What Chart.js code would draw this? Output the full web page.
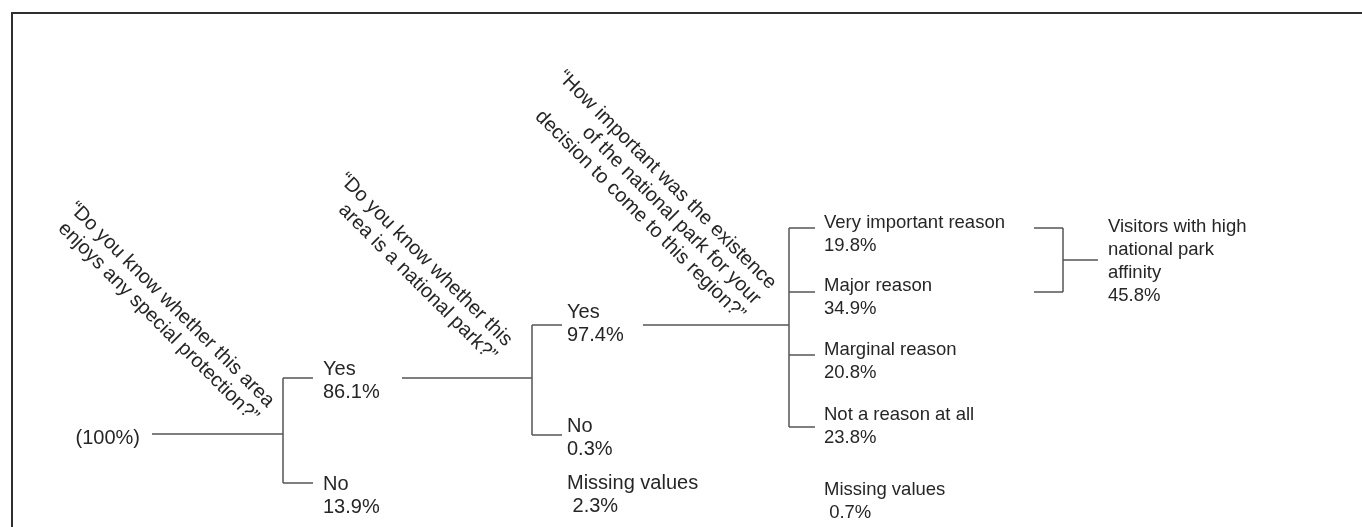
<!DOCTYPE html>
<html>
<head>
<meta charset="utf-8">
<title>National park affinity</title>
<script src="https://cdn.jsdelivr.net/npm/chart.js@4.4.1/dist/chart.umd.min.js"></script>
<style>
    html, body { margin: 0; padding: 0; background: #fff; }
    #wrap { width: 1362px; height: 527px; }
</style>
</head>
<body>
<div id="wrap"><canvas id="treeChart" width="1362" height="527"></canvas></div>
<script>
// Survey questions, one per split of the tree
const questions = [
    ["\u201cDo you know whether this area", "enjoys any special protection?\u201d"],
    ["\u201cDo you know whether this", "area is a national park?\u201d"],
    ["\u201cHow important was the existence", "of the national park for your", "decision to come to this region?\u201d"]
];
const rootShare = 100;

// Answers and share of respondents (%)
const protectionAnswers = ["Yes", "No"];
const protectionShares = [86.1, 13.9];
const parkAnswers = ["Yes", "No", "Missing values"];
const parkShares = [97.4, 0.3, 2.3];
const reasonAnswers = ["Very important reason", "Major reason", "Marginal reason", "Not a reason at all", "Missing values"];
const reasonShares = [19.8, 34.9, 20.8, 23.8, 0.7];
const affinityLabel = ["Visitors with high", "national park", "affinity"];
const affinityShare = 45.8;

// Layout in chart units (both axes run over the canvas size)
const stemX = [152, 402, 643];          // where each stem line starts
const forkX = [283, 532, 789];          // vertical bar of each split
const tipX = [313, 562, 815];           // end of the branch lines
const labelX = [323, 567, 824];
const rootY = 434;
const branchY = [[378, 483], [325, 435], [228, 292, 355, 427]];
const labelY = [[375, 490], [318, 432, 489], [228, 291, 355, 420, 495]];
const questionEnd = [[267, 408], [505, 347], [769, 290]];
const mergeX = [1034, 1063, 1098];
const mergeY = [228, 292];
const affinityX = 1108, affinityY = 232;

const lineColor = "#555";
const textColor = "#262626";
const bigFont = "20px 'Liberation Sans', Arial, sans-serif";
const smallFont = "18.5px 'Liberation Sans', Arial, sans-serif";
const lineGap = 23;

function pct(v) {
    return (v === rootShare ? v.toFixed(0) : v.toFixed(1)) + "%";
}

// stem from (fromX, fromY) to a bar at barX, then one branch per y to toX
function elbow(fromX, fromY, barX, toX, ys) {
    const segs = [
        [[fromX, fromY], [barX, fromY]],
        [[barX, Math.min(...ys)], [barX, Math.max(...ys)]]
    ];
    ys.forEach((y) => segs.push([[barX, y], [toX, y]]));
    return segs;
}

const segments = [
    ...elbow(stemX[0], rootY, forkX[0], tipX[0], branchY[0]),
    ...elbow(stemX[1], branchY[0][0], forkX[1], tipX[1], branchY[1]),
    ...elbow(stemX[2], branchY[1][0], forkX[2], tipX[2], branchY[2]),
    // the two top reasons merge into the affinity group
    ...elbow(mergeX[2], (mergeY[0] + mergeY[1]) / 2, mergeX[1], mergeX[0], mergeY)
];

const datasets = segments.map((s) => ({
    data: s.map((p) => ({ x: p[0], y: p[1] })),
    showLine: true,
    borderColor: lineColor,
    borderWidth: 1.5,
    pointRadius: 0,
    fill: false
}));

// Draws the labels, the rotated questions and the frame
const treeText = {
    id: "treeText",
    beforeDraw(chart) {
        const ctx = chart.ctx;
        ctx.save();
        ctx.strokeStyle = "#2f2f2f";
        ctx.lineWidth = 2;
        ctx.beginPath();
        ctx.moveTo(12, chart.height);
        ctx.lineTo(12, 13);
        ctx.lineTo(chart.width, 13);
        ctx.stroke();
        ctx.restore();
    },
    afterDatasetsDraw(chart) {
        const ctx = chart.ctx;
        const px = (v) => chart.scales.x.getPixelForValue(v);
        const py = (v) => chart.scales.y.getPixelForValue(v);

        ctx.save();
        ctx.fillStyle = textColor;
        ctx.textBaseline = "alphabetic";

        // root
        ctx.font = bigFont;
        ctx.textAlign = "right";
        ctx.fillText("(" + pct(rootShare) + ")", px(stemX[0] - 12), py(rootY + 10));

        // answers
        ctx.textAlign = "left";
        const levels = [
            [protectionAnswers, protectionShares, bigFont],
            [parkAnswers, parkShares, bigFont],
            [reasonAnswers, reasonShares, smallFont]
        ];
        levels.forEach(([answers, shares, font], i) => {
            ctx.font = font;
            answers.forEach((a, j) => {
                const y = labelY[i][j];
                const lead = a === "Missing values" ? " " : "";
                ctx.fillText(a, px(labelX[i]), py(y));
                ctx.fillText(lead + pct(shares[j]), px(labelX[i]), py(y + lineGap));
            });
        });

        // affinity group
        ctx.font = smallFont;
        affinityLabel.concat([pct(affinityShare)]).forEach((t, k) => {
            ctx.fillText(t, px(affinityX), py(affinityY + k * lineGap));
        });

        // questions, rotated 45 degrees and right aligned
        ctx.font = bigFont;
        ctx.textAlign = "right";
        questions.forEach((lines, i) => {
            ctx.save();
            ctx.translate(px(questionEnd[i][0]), py(questionEnd[i][1]));
            ctx.rotate(Math.PI / 4);
            lines.forEach((t, k) => ctx.fillText(t, 0, k * 22));
            ctx.restore();
        });
        ctx.restore();
    }
};

new Chart(document.getElementById("treeChart").getContext("2d"), {
    type: "scatter",
    data: { datasets: datasets },
    options: {
        responsive: false,
        animation: false,
        layout: { padding: 0 },
        scales: {
            x: { type: "linear", min: 0, max: 1362, display: false },
            y: { type: "linear", min: 0, max: 527, reverse: true, display: false }
        },
        plugins: {
            legend: { display: false },
            tooltip: { enabled: false }
        }
    },
    plugins: [treeText]
});
</script>
</body>
</html>
